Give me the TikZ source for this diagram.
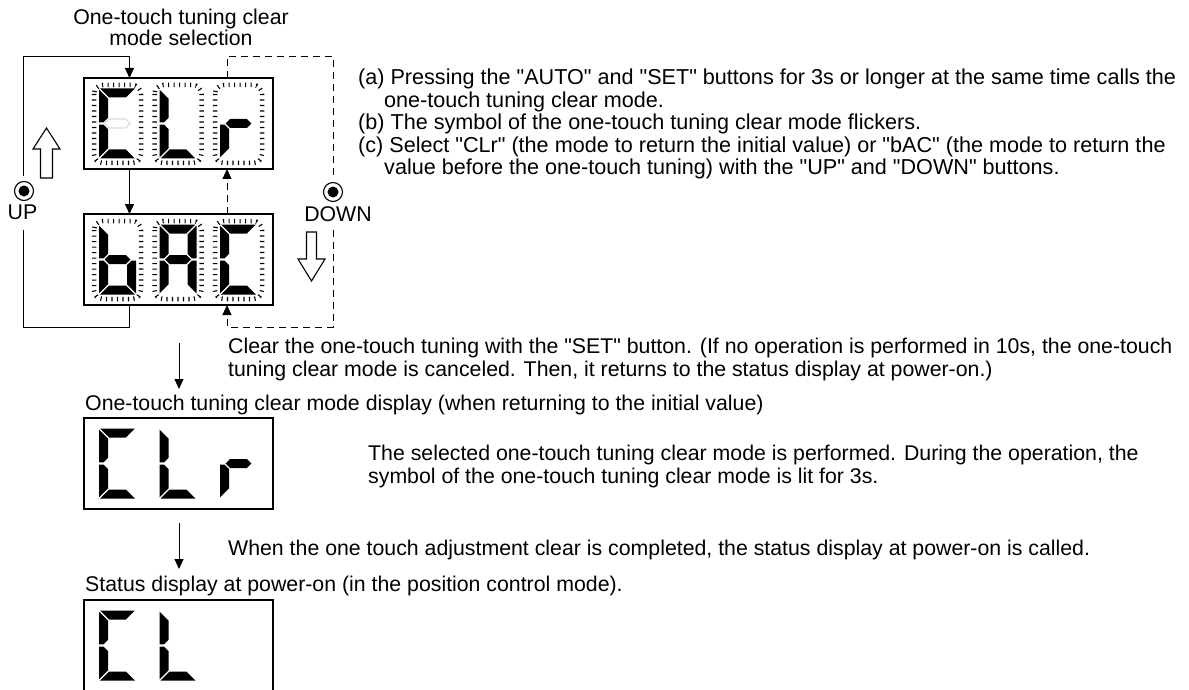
\documentclass[tikz,border=0pt]{standalone}
\usepackage{fontspec}
\setmainfont{Liberation Sans}[Ligatures=TeXOff]
\usetikzlibrary{arrows.meta,calc}
\newcommand\dsega{\fill (1.2,0) -- (35.8,0) -- (26.8,9) -- (10.2,9) -- cycle;}
\newcommand\dsegb{\fill (37,1.2) -- (37,33.8) -- (32.5,33.8) -- (28,29.3) -- (28,10.2) -- cycle;}
\newcommand\dsegc{\fill (37,36.2) -- (37,68.8) -- (28,59.8) -- (28,40.7) -- (32.5,36.2) -- cycle;}
\newcommand\dsegd{\fill (10.2,61) -- (26.8,61) -- (35.8,70) -- (1.2,70) -- cycle;}
\newcommand\dsege{\fill (0,36.2) -- (4.5,36.2) -- (9,40.7) -- (9,59.8) -- (0,68.8) -- cycle;}
\newcommand\dsegf{\fill (0,1.2) -- (9,10.2) -- (9,29.3) -- (4.5,33.8) -- (0,33.8) -- cycle;}
\newcommand\dsegg{\fill (5.7,35) -- (10.2,30.5) -- (26.8,30.5) -- (31.3,35) -- (26.8,39.5) -- (10.2,39.5) -- cycle;}
\newcommand\dgt[3]{\begin{scope}[shift={(#1,#2)}]\foreach \s in {#3}{\csname dseg\s\endcsname}\end{scope}}
\newcommand\rng[2]{\begin{scope}[shift={(#1,#2)}]\draw[ticks] (-5,-3.5) rectangle (42,74.5);\end{scope}}
\begin{document}
\begin{tikzpicture}[x=1pt,y=-1pt,
  >={Triangle[length=10pt,width=9pt]},
  box/.style={draw, line width=1.5pt, minimum width=189pt, minimum height=91pt, inner sep=0pt, outer sep=0pt},
  conn/.style={line width=0.9pt},
  dconn/.style={line width=0.9pt, dash pattern=on 7pt off 5pt},
  ticks/.style={line width=4.5pt, dash pattern=on 1.1pt off 4.4pt, rounded corners=9pt},
  txt/.style={inner sep=0pt, anchor=base west, font=\fontsize{21.3}{24}\selectfont},
  rtxt/.style={txt, font=\fontsize{21.6}{24}\selectfont},
  ctxt/.style={txt, anchor=base},
  btn/.style={circle, draw, line width=1.1pt, minimum size=19pt, inner sep=0pt,
    path picture={\fill (path picture bounding box.center) circle (5.5pt);}},
  hollow/.style={draw, line width=1.1pt, fill=white, line join=miter}
]
\useasboundingbox (0,0) rectangle (1189,690);
\clip (0,0) rectangle (1189,690);

% title
\node[ctxt] (t1) at (181,24.5) {One-touch tuning clear};
\node[ctxt] (t2) at (181,46) {mode selection};

% boxes
\node[box] (b1) at (178.5,123.5) {};
\node[box] (b2) at (178.5,259.5) {};
\node[box] (b3) at (178.5,463.5) {};
\node[box, minimum height=130pt] (b4) at (178.5,665) {};

% digits box 1 (flickering CLr)
\rng{99}{88.5}\rng{159.5}{88.5}\rng{220}{88.5}
\dgt{99}{88.5}{a,f,e,d}
\begin{scope}[shift={(99,88.5)}]
  \draw[black!25, line width=0.6pt] (5.7,35) -- (10.2,30.5) -- (26.8,30.5) -- (31.3,35) -- (26.8,39.5) -- (10.2,39.5) -- cycle;
\end{scope}
\dgt{159.5}{88.5}{f,e,d}
\dgt{220}{88.5}{e,g}

% digits box 2 (flickering bAC)
\rng{99}{224.5}\rng{159.5}{224.5}\rng{220}{224.5}
\dgt{99}{224.5}{f,e,d,c,g}
\dgt{159.5}{224.5}{a,b,c,e,f,g}
\dgt{220}{224.5}{a,f,e,d}

% box 3 CLr
\dgt{99}{428.5}{a,f,e,d}
\dgt{159.5}{428.5}{f,e,d}
\dgt{220}{428.5}{e,g}

% box 4 CL
\dgt{99}{610.5}{a,f,e,d}
\dgt{159.5}{610.5}{f,e,d}

% buttons
\node[btn] (upbtn) at (24,191) {};
\node[btn] (dnbtn) at (333,192) {};
\node[ctxt] (uplbl) at (22.5,219) {UP};
\node[ctxt] (dnlbl) at (338,222) {DOWN};

% hollow arrows
\draw[hollow] (40.5,178) -- (40.5,149) -- (33,149) -- (46.5,128) -- (60,149) -- (52.5,149) -- (52.5,178) -- cycle;
\draw[hollow] (306.5,232) -- (306.5,259) -- (298,259) -- (311.5,281) -- (325,259) -- (316.5,259) -- (316.5,232) -- cycle;

% corner coordinates
\coordinate (ul) at (23.3,56);
\coordinate (ur) at (129.5,56);
\coordinate (dl) at (227,56);
\coordinate (dr) at (333,56);
\coordinate (lbl) at (23.3,327);
\coordinate (lbr) at (129.5,327);
\coordinate (rbl) at (227,327);
\coordinate (rbr) at (333,327);

% solid loop (UP)
\draw[conn,->] ([yshift=5pt]upbtn.north -| ul) -- (ul) -- (ur) -- (ur |- b1.north);
\draw[conn,->] (ur |- b1.south) -- (ur |- b2.north);
\draw[conn] ([yshift=-11pt]ul |- uplbl.south) -- (lbl) -- (lbr) -- (lbr |- b2.south);

% dashed loop (DOWN)
\draw[dconn] (dl |- b1.north) -- (dl) -- (dr) -- ([yshift=5pt]dnbtn.north);
\draw[dconn,->] (dl |- b2.north) -- (dl |- b1.south);
\draw[dconn,->] ([yshift=-8pt]rbr |- dnlbl.south) -- (rbr) -- (rbl) -- (rbl |- b2.south);

% main flow arrows
\coordinate (f1s) at (179,343);
\coordinate (f1e) at (179,389);
\coordinate (f2s) at (179,523);
\coordinate (f2e) at (179,569);
\draw[conn,->] (f1s) -- (f1e);
\draw[conn,->] (f2s) -- (f2e);

% right-hand explanation
\node[rtxt] (ra1) at (358,85) {(a) Pressing the "AUTO" and "SET" buttons for 3s or longer at the same time calls the};
\node[rtxt] (ra2) at (384,107.5) {one-touch tuning clear mode.};
\node[rtxt] (rb1) at (358,130) {(b) The symbol of the one-touch tuning clear mode flickers.};
\node[rtxt] (rc1) at (358,152.5) {(c) Select "CLr" (the mode to return the initial value) or "bAC" (the mode to return the};
\node[rtxt] (rc2) at (384,175) {value before the one-touch tuning) with the "UP" and "DOWN" buttons.};

% lower texts
\node[txt] (cl1) at (228,353) {Clear the one-touch tuning with the "SET" button. (If no operation is performed in 10s, the one-touch};
\node[txt] (cl2) at (228,376) {tuning clear mode is canceled. Then, it returns to the status display at power-on.)};
\node[txt] (dsp) at (85,410.5) {One-touch tuning clear mode display (when returning to the initial value)};
\node[txt] (sel1) at (368,460) {The selected one-touch tuning clear mode is performed. During the operation, the};
\node[txt] (sel2) at (368,483) {symbol of the one-touch tuning clear mode is lit for 3s.};
\node[txt] (whn) at (228,555.5) {When the one touch adjustment clear is completed, the status display at power-on is called.};
\node[txt] (sts) at (85,591) {Status display at power-on (in the position control mode).};
\end{tikzpicture}
\end{document}
